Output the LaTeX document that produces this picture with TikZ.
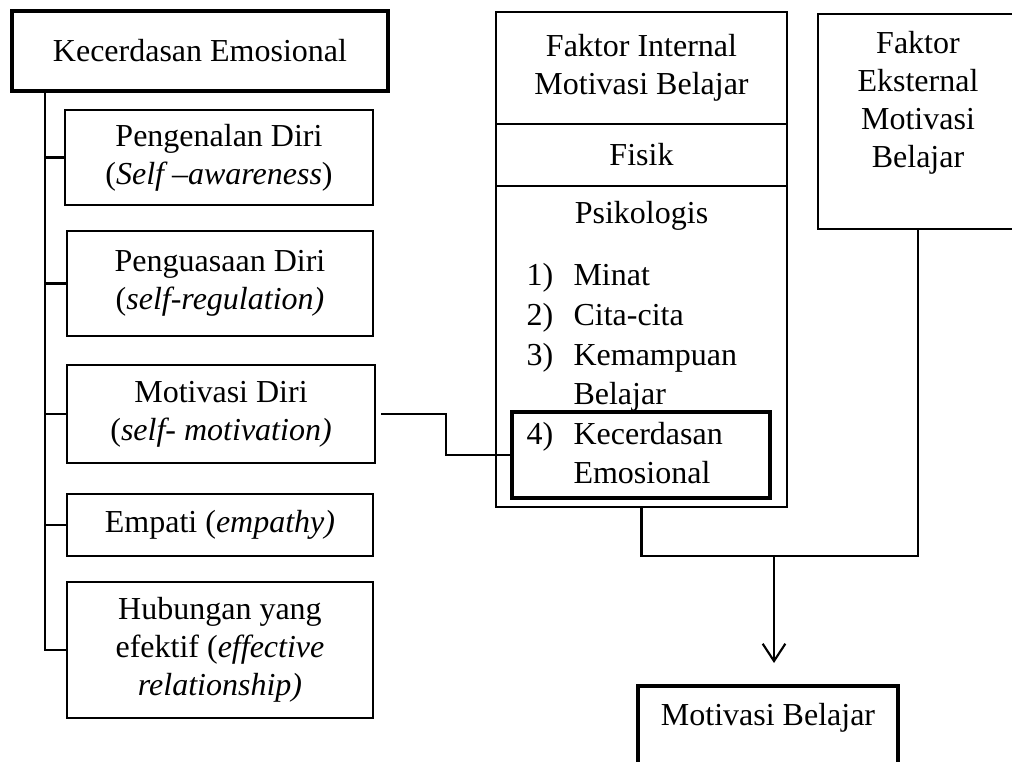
\documentclass[tikz,border=0pt]{standalone}
\usepackage{fontspec}
\setmainfont{Liberation Serif}
\usetikzlibrary{positioning,arrows.meta}

\begin{document}
\begin{tikzpicture}[x=0.375pt,y=-0.375pt,
        font=\fontsize{12}{14.25}\selectfont,
        box/.style={draw,line width=0.5pt,align=center,inner sep=0pt},
        thickbox/.style={box,line width=1.6pt},
        item/.style={anchor=base west,inner sep=0pt},
        conn/.style={line width=0.8pt},
        >={Straight Barb[length=6.5pt,width=8.5pt]}]
        \useasboundingbox (0,0) rectangle (1012,761);
        \node[thickbox,minimum width=141pt,minimum height=30pt] (ke) at (200,51) {Kecerdasan Emosional};
        \node[box,minimum width=115.5pt,minimum height=35.6pt] (pd) at (219,157.5) {Pengenalan Diri\\(\textit{Self –awareness})};
        \node[box,minimum width=114.75pt,minimum height=39.4pt] (pg) at (220,283.5) {Penguasaan Diri\\(\textit{self-regulation)}};
        \node[box,minimum width=115.5pt,minimum height=36.75pt] (md) at (221,414) {Motivasi Diri\\(\textit{self- motivation)}};
        \node[box,minimum width=114.75pt,minimum height=23.25pt] (em) at (220,525) {Empati (\textit{empathy)}};
        \node[box,minimum width=114.75pt,minimum height=51pt] (hub) at (220,650) {Hubungan yang\\efektif (\textit{effective}\\\textit{relationship)}};
        \node[box,minimum width=109.1pt,minimum height=42pt] (inttop) at (641.5,68) {Faktor Internal\\Motivasi Belajar};
        \node[box,minimum width=109.1pt,minimum height=23.25pt] (fisik) at (641.5,155) {Fisik};
        \node[box,minimum width=109.1pt,minimum height=120.4pt] (psiko) at (641.5,346.5) {};
        \node[anchor=base,inner sep=0pt] (psikot) at (641.5,223) {Psikologis};
        \foreach \t [count=\i] in {Minat,Cita-cita,Kemampuan} {
            \node[item] (no\i) at (526,245+40*\i) {\i)};
            \node[item] (it\i) at (573,245+40*\i) {\t};
        }
        \node[item] (it3b) at (573,404) {Belajar};
        \node[thickbox,minimum width=96.75pt,minimum height=32.25pt] (ke4) at (641,455) {};
        \node[item] (no4) at (526,444) {4)};
        \node[item] (it4) at (573,444) {Kecerdasan};
        \node[item] (it4b) at (573,483) {Emosional};
        \node[anchor=north west,minimum width=90pt,minimum height=80.25pt,inner sep=0pt] (ext) at (818,14) {};
        \draw[line width=0.5pt] (ext.north east) -- (ext.north west) -- (ext.south west) -- (ext.south east);
        \node[anchor=north,align=center,inner sep=0pt] (extt) at (918,31) {Faktor\\Eksternal\\Motivasi\\Belajar};
        \node[thickbox,anchor=north,minimum width=97.5pt,minimum height=40pt] (mb) at (768,684) {};
        \node[anchor=base,inner sep=0pt] (mbt) at (768,725) {Motivasi Belajar};
        \coordinate (trunk) at (45,91);
        \coordinate (bend) at (446,0);
        \coordinate (join) at (774,556);
        \coordinate (tip) at (774,663);
        \draw[conn] (trunk) |- (hub.west);
        \foreach \b in {pd,pg,md,em}
            \draw[conn] (trunk |- \b.west) -- (\b.west);
        \draw[conn] ([xshift=2pt]md.east) -| (bend |- ke4.west) -- (ke4.west);
        \draw[conn] (psiko.south) |- (join) -| (extt.south |- ext.south);
        \draw[conn,->] (join) -- (tip);
    \end{tikzpicture}
\end{document}
